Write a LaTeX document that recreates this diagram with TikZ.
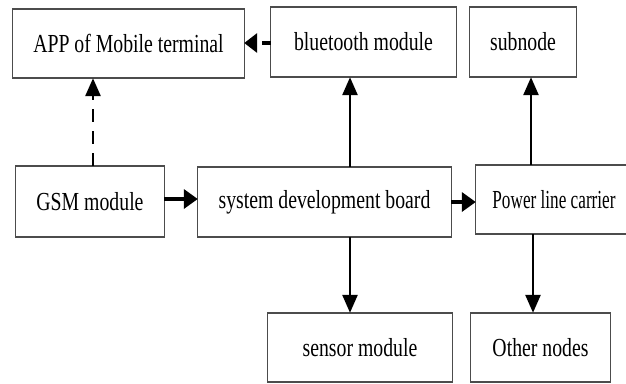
\documentclass[tikz,border=0pt]{standalone}
\usepackage{fontspec}
\setmainfont{Liberation Serif}
\newfontfamily\condserif{Liberation Serif}[FakeStretch=0.76]
\usetikzlibrary{arrows.meta}
\begin{document}
\begin{tikzpicture}[x=1pt,y=-1pt,
  box/.style={draw=none,rectangle,inner sep=0pt,
    font=\condserif\fontsize{26}{30}\selectfont},
  hedge/.style={draw=black!70,line width=1.8pt,line cap=rect},
  vedge/.style={draw=black!70,line width=1.1pt},
  varr/.style={line width=2.6pt,-{Triangle[length=18pt,width=15pt]}},
  harr/.style={line width=4pt,-{Triangle[length=14pt,width=19pt]}},
  vdarr/.style={line width=2.8pt,dash pattern=on 13pt off 9pt,-{Triangle[length=18pt,width=15pt]}},
  hdarr/.style={line width=4pt,dash pattern=on 9pt off 8pt,-{Triangle[length=13pt,width=19pt]}}]
\useasboundingbox (0,0) rectangle (626,383);
\node[box,minimum width=231pt,minimum height=69pt] (app) at (128.5,43.5) {APP of Mobile terminal};
\node[box,minimum width=185pt,minimum height=70pt] (bt) at (363.5,42) {bluetooth module};
\node[box,minimum width=106pt,minimum height=70pt] (sub) at (523,42) {subnode};
\node[box,minimum width=148pt,minimum height=71pt] (gsm) at (90,201.5) {GSM module};
\node[box,minimum width=253pt,minimum height=70pt] (sys) at (324.5,202) {system development board};
\node[box,minimum width=156pt,minimum height=69pt] (plc) at (554,199.5) {\scalebox{0.87}[1]{Power line carrier}};
\node[box,minimum width=184pt,minimum height=69pt] (sen) at (360,347.5) {sensor module};
\node[box,minimum width=139pt,minimum height=69pt] (oth) at (540.5,347.5) {Other nodes};
\foreach \n in {app,bt,sub,gsm,sys,plc,sen,oth}{
  \draw[vedge] (\n.north west) -- (\n.south west) (\n.north east) -- (\n.south east);
  \draw[hedge] (\n.north west) -- (\n.north east) (\n.south west) -- (\n.south east);
}
\coordinate (xa) at (93,0);
\coordinate (xb) at (350,0);
\coordinate (xc) at (531,0);
\coordinate (xd) at (533,0);
\coordinate (ya) at (0,43);
\coordinate (yb) at (0,199);
\coordinate (yc) at (0,202);
\draw[hdarr] (bt.west |- ya) -- (app.east |- ya);
\draw[vdarr] (gsm.north -| xa) -- (app.south -| xa);
\draw[harr] (gsm.east |- yb) -- (sys.west |- yb);
\draw[harr] (sys.east |- yc) -- (plc.west |- yc);
\draw[varr] (sys.north -| xb) -- (bt.south -| xb);
\draw[varr] (sys.south -| xb) -- (sen.north -| xb);
\draw[varr] (plc.north -| xc) -- (sub.south -| xc);
\draw[varr] (plc.south -| xd) -- (oth.north -| xd);
\end{tikzpicture}
\end{document}
